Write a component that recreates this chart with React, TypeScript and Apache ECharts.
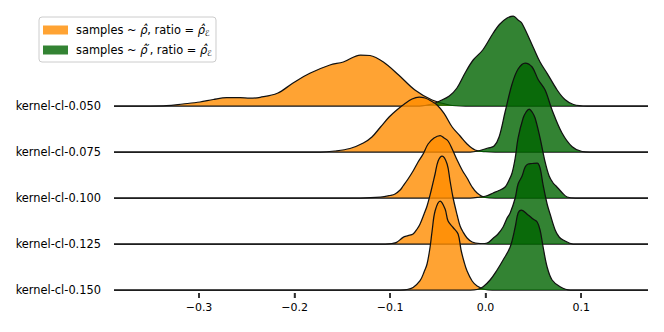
import React, { useEffect, useRef } from "react";
import * as echarts from "echarts";

// ---------- data ----------
const ROW_NAMES = [
  "kernel-cl-0.050",
  "kernel-cl-0.075",
  "kernel-cl-0.100",
  "kernel-cl-0.125",
  "kernel-cl-0.150",
];
const SERIES_NAMES = ["samples ~ ρ̂, ratio = ρ̂ℰ", "samples ~ ρ̂′, ratio = ρ̂ℰ"];
const X_TICKS = [-0.3, -0.2, -0.1, 0.0, 0.1];
const X_MIN = -0.389;
const X_MAX = 0.17;

// densities (relative units) at x positions: [x, density]
const ORANGE_1: [number, number][] = [
  [-0.351, 0], [-0.334, 0.3], [-0.317, 2], [-0.299, 4], [-0.285, 6.5], [-0.271, 8.3],
  [-0.257, 8.3], [-0.247, 7.8], [-0.236, 8.7], [-0.218, 12.7], [-0.202, 22.7],
  [-0.184, 32.7], [-0.163, 41], [-0.149, 44], [-0.131, 51], [-0.121, 50.5],
  [-0.107, 44], [-0.091, 31], [-0.074, 16], [-0.056, 6], [-0.038, 1], [-0.021, 0],
];
const GREEN_1: [number, number][] = [
  [-0.069, 0], [-0.056, 2], [-0.048, 5], [-0.038, 10], [-0.03, 18], [-0.0215, 33],
  [-0.013, 46], [-0.003, 56], [0.008, 73], [0.015, 82], [0.0225, 88], [0.029, 90],
  [0.034, 86], [0.038, 82.7], [0.0497, 59], [0.057, 44], [0.0644, 32.7],
  [0.0749, 16], [0.083, 6.5], [0.092, 1.5], [0.106, 0],
];
const ORANGE_2: [number, number][] = [
  [-0.173, 0], [-0.158, 1], [-0.142, 3.5], [-0.128, 9], [-0.119, 15], [-0.11, 25],
  [-0.101, 35], [-0.093, 42], [-0.085, 48], [-0.077, 53], [-0.0696, 55], [-0.0634, 54],
  [-0.057, 51], [-0.0508, 47], [-0.0435, 38.7], [-0.035, 25], [-0.0267, 16],
  [-0.0194, 8], [-0.011, 2], [0.0, 0.3], [0.01, 0],
];
const GREEN_2: [number, number][] = [
  [-0.016, 0], [-0.006, 1.5], [0.0026, 4], [0.0089, 6], [0.0141, 15], [0.0204, 40],
  [0.0277, 68], [0.034, 83], [0.0414, 89], [0.0487, 85], [0.055, 72.5], [0.0623, 62],
  [0.0696, 42], [0.08, 19], [0.0906, 5.3], [0.101, 0.5], [0.109, 0],
];
const ORANGE_3: [number, number][] = [
  [-0.131, 0], [-0.11, 0.8], [-0.1, 2.5], [-0.0948, 4], [-0.0895, 8], [-0.0864, 12],
  [-0.0812, 19], [-0.0759, 27], [-0.0707, 36], [-0.0654, 44], [-0.0602, 54],
  [-0.054, 60], [-0.0476, 62.5], [-0.0435, 60], [-0.0393, 57], [-0.035, 49],
  [-0.0298, 38], [-0.0246, 28], [-0.0194, 20], [-0.0141, 11], [-0.0089, 5],
  [-0.0005, 0.6], [0.01, 0],
];
const GREEN_3: [number, number][] = [
  [-0.016, 0], [-0.006, 1], [0.0005, 2], [0.0079, 5], [0.014, 7.5], [0.0204, 11],
  [0.0246, 18], [0.0277, 25], [0.031, 40], [0.034, 60], [0.0393, 80], [0.0424, 86],
  [0.0456, 89], [0.0487, 86], [0.0518, 80], [0.057, 60], [0.0623, 36], [0.0665, 22],
  [0.0707, 15], [0.0738, 12], [0.0801, 5.3], [0.0853, 1], [0.094, 0],
];
const ORANGE_4: [number, number][] = [
  [-0.105, 0], [-0.098, 0.5], [-0.0932, 1.6], [-0.0864, 6.6], [-0.0812, 8.3],
  [-0.0759, 10], [-0.0717, 15], [-0.0686, 20], [-0.0644, 30], [-0.0613, 38],
  [-0.0571, 53], [-0.0529, 70], [-0.0497, 83], [-0.0455, 88], [-0.0403, 80],
  [-0.0372, 63], [-0.034, 46], [-0.0298, 29], [-0.0267, 18], [-0.0236, 12],
  [-0.0194, 6], [-0.0141, 2], [-0.0058, 0.3], [0.0026, 0],
];
const GREEN_4: [number, number][] = [
  [-0.011, 0], [0.0016, 1], [0.0079, 5.7], [0.013, 10], [0.0183, 17], [0.0225, 26],
  [0.0257, 31], [0.031, 46], [0.034, 60], [0.0382, 68], [0.0414, 77], [0.0445, 80],
  [0.0487, 80.5], [0.054, 81], [0.057, 76], [0.0602, 59], [0.0644, 40], [0.0675, 30],
  [0.0728, 14], [0.077, 7], [0.0812, 4], [0.0916, 0],
];
const ORANGE_5: [number, number][] = [
  [-0.0895, 0], [-0.0822, 0.5], [-0.0759, 2.6], [-0.0686, 9.3], [-0.0644, 18],
  [-0.0613, 26], [-0.0581, 43], [-0.056, 59], [-0.0529, 79], [-0.0476, 89],
  [-0.0424, 81], [-0.0393, 69], [-0.034, 62.5], [-0.0288, 56], [-0.0257, 40],
  [-0.0225, 28], [-0.0194, 19], [-0.0141, 9], [-0.0089, 4], [-0.0005, 0.5], [0.0068, 0],
];
const GREEN_5: [number, number][] = [
  [-0.016, 0], [-0.009, 0.5], [-0.0026, 3.3], [0.0047, 10], [0.012, 20], [0.0183, 30],
  [0.0257, 43], [0.031, 63], [0.034, 77], [0.0374, 80], [0.0445, 75], [0.0497, 71],
  [0.054, 68], [0.057, 60], [0.0602, 43], [0.0644, 23], [0.0696, 10], [0.078, 3.3],
  [0.0885, 0],
];
const ORANGE_ROWS = [ORANGE_1, ORANGE_2, ORANGE_3, ORANGE_4, ORANGE_5];
const GREEN_ROWS = [GREEN_1, GREEN_2, GREEN_3, GREEN_4, GREEN_5];

// ---------- style / layout ----------
const W = 664;
const H = 332;
const FONT = "DejaVu Sans";
const ORANGE = "rgba(255,140,0,0.8)";
const GREEN = "rgba(0,100,0,0.8)";
const FIRST_BASE = 106;
const ROW_STEP = 46;
const RIDGE_H = 100;
const PLOT_LEFT = 114;
const PLOT_RIGHT = 16;

function fmtTick(v: number): string {
  const s = Math.abs(v).toFixed(1);
  return v < -1e-9 ? "\u2212" + s : s;
}

function withEnds(pts: [number, number][]): [number, number][] {
  return [[X_MIN, 0], ...pts, [X_MAX, 0]];
}

export default function App() {
  const ref = useRef<HTMLDivElement>(null);
  useEffect(() => {
    if (!ref.current) return;
    const chart = echarts.init(ref.current, undefined, { renderer: "svg", width: W, height: H });
    const n = ROW_NAMES.length;
    const grids: any[] = [];
    const xAxes: any[] = [];
    const yAxes: any[] = [];
    const series: any[] = [];
    for (let i = 0; i < n; i++) {
      const base = FIRST_BASE + i * ROW_STEP;
      grids.push({ left: PLOT_LEFT, right: PLOT_RIGHT, top: base - RIDGE_H, height: RIDGE_H });
      xAxes.push({ type: "value", gridIndex: i, min: X_MIN, max: X_MAX, show: false });
      yAxes.push({
        type: "value",
        gridIndex: i,
        min: 0,
        max: RIDGE_H,
        axisLine: { show: false },
        axisTick: { show: false },
        splitLine: { show: false },
        axisLabel: {
          show: true,
          customValues: [0],
          formatter: () => ROW_NAMES[i],
          fontFamily: FONT,
          fontSize: 11.4,
          color: "#000",
          margin: 13,
        },
      });
      const mk = (name: string, data: [number, number][], color: string, z: number) => ({
        type: "line",
        name,
        xAxisIndex: i,
        yAxisIndex: i,
        data: withEnds(data),
        smooth: 0.35,
        showSymbol: false,
        symbol: "none",
        clip: false,
        z,
        itemStyle: { color },
        lineStyle: { color: "#111", width: 1.25 },
        areaStyle: { color, opacity: 1, origin: "start" },
        emphasis: { disabled: true },
        silent: true,
      });
      series.push(mk(SERIES_NAMES[0], ORANGE_ROWS[i], ORANGE, 2 + i * 2));
      series.push(mk(SERIES_NAMES[1], GREEN_ROWS[i], GREEN, 3 + i * 2));
    }
    // axis-only strip carrying the x tick marks and labels, just below the last baseline
    const lastBase = FIRST_BASE + (n - 1) * ROW_STEP;
    grids.push({ left: PLOT_LEFT, right: PLOT_RIGHT, top: lastBase + 3, height: 5 });
    xAxes.push({
      type: "value",
      gridIndex: n,
      min: X_MIN,
      max: X_MAX,
      position: "bottom",
      axisLine: { show: false, onZero: false },
      splitLine: { show: false },
      axisTick: {
        show: true,
        inside: true,
        length: 5,
        lineStyle: { color: "#222", width: 1.5 },
        customValues: X_TICKS,
      },
      axisLabel: {
        show: true,
        customValues: X_TICKS,
        formatter: fmtTick,
        fontFamily: FONT,
        fontSize: 11,
        color: "#000",
        margin: 4,
      },
    });
    yAxes.push({ type: "value", gridIndex: n, min: 0, max: 1, show: false });
    series.push({
      type: "scatter",
      name: "ticks",
      xAxisIndex: n,
      yAxisIndex: n,
      data: X_TICKS.map((v) => [v, 0.5]),
      symbol: "rect",
      symbolSize: [1.6, 5],
      itemStyle: { color: "#222" },
      clip: false,
      silent: true,
      z: 20,
    });

    chart.setOption({
      animation: false,
      textStyle: { fontFamily: FONT },
      grid: grids,
      xAxis: xAxes,
      yAxis: yAxes,
      series,
      legend: {
        show: true,
        orient: "vertical",
        left: 39,
        top: 17,
        padding: [6, 4, 5, 4],
        itemGap: 6,
        itemWidth: 25,
        itemHeight: 9,
        icon: "rect",
        backgroundColor: "rgba(255,255,255,0.8)",
        borderColor: "#cccccc",
        borderWidth: 1,
        borderRadius: 3,
        selectedMode: false,
        data: [
          { name: SERIES_NAMES[0], itemStyle: { color: ORANGE, borderWidth: 0 } },
          { name: SERIES_NAMES[1], itemStyle: { color: GREEN, borderWidth: 0 } },
        ],
        formatter: (name: string) =>
          name === SERIES_NAMES[0]
            ? "samples ~ {i|ρ̂}, ratio = {i|ρ̂}{s|ℰ}"
            : "samples ~ {i|ρ̂}{p|′}, ratio = {i|ρ̂}{s|ℰ}",
        textStyle: {
          fontFamily: FONT,
          fontSize: 11.4,
          lineHeight: 14,
          color: "#000",
          padding: [0, 0, 0, 3],
          rich: {
            i: { fontFamily: FONT, fontSize: 11.4, fontStyle: "italic", lineHeight: 14 },
            p: { fontFamily: FONT, fontSize: 10, lineHeight: 14, verticalAlign: "top" },
            s: { fontFamily: FONT, fontSize: 8, fontStyle: "italic", lineHeight: 14, verticalAlign: "bottom" },
          },
        },
      },
    });
    return () => chart.dispose();
  }, []);
  return (
    <div
      ref={ref}
      style={{ position: "fixed", left: 0, top: 0, width: W, height: H, background: "#fff" }}
    />
  );
}
